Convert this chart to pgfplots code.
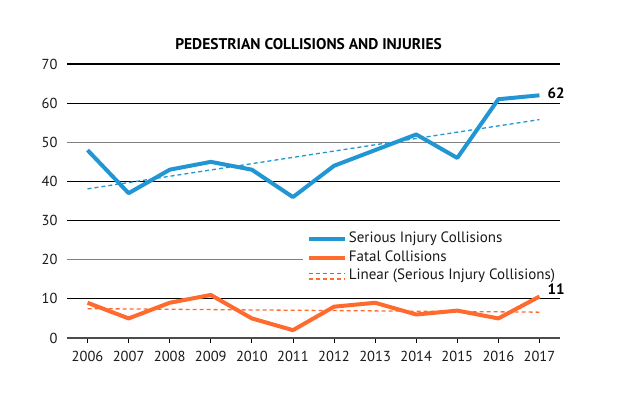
\documentclass[border=0pt]{standalone}
\usepackage{pgfplots}
\pgfplotsset{compat=1.18}
\usepackage{fontspec}
\setmainfont{PT Sans}
\definecolor{serblue}{HTML}{2196D3}
\definecolor{fatorange}{HTML}{FF6B2E}
\definecolor{gridgray}{HTML}{808080}
\begin{document}
\begin{tikzpicture}
\useasboundingbox (-67pt,-60pt) rectangle (550pt,338pt);
\begin{axis}[
  at={(0pt,0pt)}, anchor=south west,
  scale only axis, width=493pt, height=274pt,
  clip=false,
  xmin=-0.5, xmax=11.5, ymin=0, ymax=70,
  xtick={0,...,11},
  xticklabels={2006,2007,2008,2009,2010,2011,2012,2013,2014,2015,2016,2017},
  ytick={0,10,30,40,60,70},
  extra y ticks={20,50},
  extra y tick style={ymajorgrids=true, major grid style={gridgray, line width=1.4pt}},
  ymajorgrids=true,
  major grid style={black, line width=1.2pt},
  axis line style={draw=none},
  xtick pos=bottom,
  tick align=outside,
  major tick length=5pt,
  xtick style={black, line width=0.9pt},
  ytick style={draw=none},
  /pgf/number format/assume math mode=true,
  tick label style={font=\fontsize{14.5}{17}\selectfont, text=black!90},
  xticklabel style={yshift=-5pt},
  yticklabel style={xshift=-1pt},
  title={PEDESTRIAN COLLISIONS AND INJURIES},
  title style={font=\bfseries\fontsize{15.5}{18}\selectfont, at={(0.49,1)}, yshift=5pt},
  legend style={at={(0.478,0.399)}, anchor=north west, fill=white, draw=none,
    font=\fontsize{15}{18}\selectfont, text=black!90, row sep=0pt,
    nodes={text height=11pt, text depth=3.5pt, inner ysep=2pt},
    inner xsep=4pt, inner ysep=1pt},
  legend cell align=left,
]
% grid line at 0 (axis)
\draw[black!70, line width=1.3pt] (axis cs:-0.5,0) -- (axis cs:11.5,0);

\addplot[serblue, line width=4pt, line join=round,
  legend image code/.code={\draw[serblue, line width=4pt] (0pt,0pt) -- (36pt,0pt);}]
  coordinates {(0,48) (1,37) (2,43) (3,45) (4,43) (5,36) (6,44) (7,48) (8,52) (9,46) (10,61) (11,62)};
\addlegendentry{Serious Injury Collisions}

\addplot[fatorange, line width=4pt, line join=round,
  legend image code/.code={\draw[fatorange, line width=4pt] (0pt,0pt) -- (36pt,0pt);}]
  coordinates {(0,9) (1,5) (2,9) (3,11) (4,5) (5,2) (6,8) (7,9) (8,6) (9,7) (10,5) (11,10.6)};
\addlegendentry{Fatal Collisions}

\addplot[serblue, line width=1.3pt, dash pattern=on 4pt off 3pt,
  legend image code/.code={
    \draw[serblue, line width=1.3pt, dash pattern=on 4pt off 3pt] (0pt,2.8pt) -- (36pt,2.8pt);
    \draw[fatorange, line width=1.3pt, dash pattern=on 4pt off 3pt] (0pt,-2.8pt) -- (36pt,-2.8pt);}]
  coordinates {(0,38.1) (11,55.8)};
\addlegendentry{Linear (Serious Injury Collisions)}

\addplot[fatorange, line width=1.3pt, dash pattern=on 4pt off 3pt, forget plot]
  coordinates {(0,7.5) (11,6.6)};

\coordinate (l62) at (axis cs:11,62);
\coordinate (l11) at (axis cs:11,10.6);
\end{axis}
\node[anchor=west, font=\bfseries\fontsize{15}{17}\selectfont, inner sep=0pt] at (l62) [xshift=8pt, yshift=2pt] {62};
\node[anchor=west, font=\bfseries\fontsize{15}{17}\selectfont, inner sep=0pt] at (l11) [xshift=8pt, yshift=7pt] {11};
\end{tikzpicture}
\end{document}
